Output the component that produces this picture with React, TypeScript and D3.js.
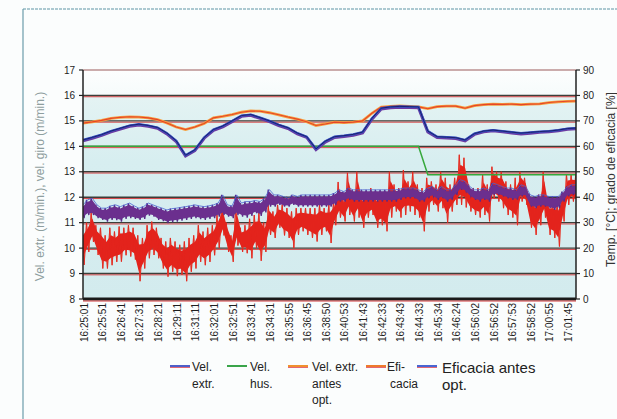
import React from 'react';
import * as d3 from 'd3';

// ---------- data ----------
const timeLabels = [
  '16:25:01', '16:25:51', '16:26:41', '16:27:31', '16:28:21', '16:29:11', '16:31:11',
  '16:32:01', '16:32:51', '16:33:41', '16:34:31', '16:35:55', '16:36:45', '16:38:50',
  '16:40:53', '16:41:43', '16:42:33', '16:43:43', '16:44:33', '16:45:34', '16:46:24',
  '16:56:02', '16:56:52', '16:57:53', '16:58:52', '17:00:55', '17:01:45',
];
const leftTicks = [8, 9, 10, 11, 12, 13, 14, 15, 16, 17];
const rightTicks = [0, 10, 20, 30, 40, 50, 60, 70, 80, 90];

// smooth series, one value every half label-interval
const SMOOTH_STEP = 0.5;
const velExtr = [
  14.25, 14.35, 14.46, 14.6, 14.71, 14.82, 14.87, 14.82, 14.74, 14.52,
  14.22, 13.65, 13.86, 14.35, 14.66, 14.8, 15.0, 15.21, 15.25, 15.13,
  15.0, 14.85, 14.73, 14.52, 14.38, 13.9, 14.2, 14.38, 14.42, 14.47,
  14.56, 15.1, 15.5, 15.55, 15.57, 15.56, 15.55, 14.6, 14.38, 14.36,
  14.34, 14.25, 14.5, 14.6, 14.64, 14.6, 14.56, 14.52, 14.55, 14.58,
  14.6, 14.64, 14.7, 14.72,
];
const velHus = [
  14.0, 14.0, 14.0, 14.0, 14.0, 14.0, 14.0, 14.0, 14.0, 14.0,
  14.0, 14.0, 14.0, 14.0, 14.0, 14.0, 14.0, 14.0, 14.0, 14.0,
  14.0, 14.0, 14.0, 14.0, 14.0, 14.0, 14.0, 14.0, 14.0, 14.0,
  14.0, 14.0, 14.0, 14.0, 14.0, 14.0, 14.0, 12.88, 12.88, 12.88,
  12.88, 12.88, 12.88, 12.88, 12.88, 12.88, 12.88, 12.88, 12.88, 12.88,
  12.88, 12.88, 12.88, 12.88,
];
const velExtrAntes = [
  14.91, 14.96, 15.02, 15.1, 15.14, 15.16, 15.15, 15.12, 15.05, 14.92,
  14.76, 14.66, 14.76, 14.9, 15.12, 15.18, 15.25, 15.34, 15.39, 15.38,
  15.32, 15.24, 15.15, 15.07, 14.97, 14.82, 14.88, 14.95, 14.93, 14.95,
  15.0, 15.3, 15.54, 15.57, 15.59, 15.57, 15.55, 15.48, 15.56, 15.58,
  15.58, 15.5, 15.6, 15.64, 15.66, 15.65, 15.66, 15.64, 15.66, 15.67,
  15.72, 15.75, 15.77, 15.78,
];

// noisy series: min / max per quarter label-interval (in left-axis units)
const NOISY_STEP = 0.25;
const eficaciaHi = [
  10.8, 11.0, 11.4, 10.9, 10.8, 10.5, 10.8, 10.65, 10.85, 10.8,
  10.9, 10.8, 10.5, 10.4, 10.9, 11.04, 10.8, 10.4, 10.26, 10.4,
  10.26, 10.13, 10.26, 10.4, 10.5, 10.9, 10.65, 10.8, 10.9, 11.3,
  11.7, 11.0, 10.5, 11.7, 10.8, 10.9, 11.15, 11.3, 11.44, 11.0,
  11.7, 11.44, 11.7, 11.7, 11.57, 11.44, 11.57, 11.57, 11.57, 11.57,
  11.57, 11.7, 11.57, 11.7, 11.83, 12.6, 11.96, 12.96, 12.1, 13.0,
  12.1, 12.2, 12.36, 12.1, 12.2, 12.2, 13.0, 12.5, 12.36, 13.07,
  12.62, 13.0, 12.5, 12.36, 12.76, 12.62, 12.5, 13.0, 12.76, 12.5,
  12.76, 13.67, 13.55, 12.5, 12.36, 12.36, 12.9, 12.5, 13.2, 13.0,
  13.0, 12.62, 12.5, 12.76, 13.0, 12.76, 12.1, 11.83, 12.1, 13.0,
  11.83, 11.83, 11.83, 12.2, 12.9, 12.9, 12.9,
];
const eficaciaLo = [
  9.34, 9.85, 10.24, 9.73, 9.2, 9.2, 9.33, 9.46, 9.47, 9.72,
  9.67, 9.55, 8.7, 9.2, 9.6, 9.73, 9.6, 9.2, 8.88, 9.07,
  8.9, 8.95, 8.7, 9.07, 9.2, 9.46, 9.33, 9.46, 9.72, 10.0,
  10.5, 9.85, 9.46, 10.1, 9.85, 9.8, 9.6, 10.0, 9.5, 9.85,
  10.52, 10.4, 10.8, 10.5, 10.4, 10.0, 10.52, 10.66, 10.52, 10.4,
  10.26, 10.52, 10.66, 10.2, 10.9, 11.2, 11.05, 11.3, 11.05, 11.2,
  10.8, 11.2, 11.3, 10.8, 10.9, 10.66, 11.2, 11.44, 11.2, 11.3,
  11.44, 11.3, 11.2, 10.66, 11.44, 11.7, 11.44, 11.57, 11.0, 11.44,
  11.7, 11.7, 11.6, 11.44, 11.3, 11.2, 11.3, 11.05, 11.96, 11.83,
  11.57, 11.3, 11.2, 10.9, 11.83, 11.7, 10.8, 10.52, 10.9, 11.2,
  10.52, 10.4, 10.06, 11.05, 11.7, 11.83, 11.7,
];
const eficaciaAntesHi = [
  11.7, 11.9, 11.96, 11.7, 11.57, 11.57, 11.66, 11.7, 11.63, 11.7,
  11.77, 11.66, 11.57, 11.63, 11.77, 11.7, 11.63, 11.57, 11.5, 11.55,
  11.57, 11.6, 11.63, 11.66, 11.7, 11.66, 11.63, 11.66, 11.7, 11.77,
  12.09, 11.7, 11.66, 12.09, 11.77, 11.83, 11.83, 11.87, 11.83, 11.96,
  12.3, 12.09, 12.09, 12.03, 11.96, 12.09, 12.03, 12.09, 12.09, 12.09,
  12.09, 12.09, 12.09, 12.09, 12.16, 12.29, 12.22, 12.36, 12.29, 12.29,
  12.29, 12.29, 12.29, 12.29, 12.29, 12.29, 12.29, 12.29, 12.32, 12.36,
  12.36, 12.36, 12.29, 12.22, 12.36, 12.42, 12.29, 12.42, 12.29, 12.29,
  12.49, 12.69, 12.62, 12.42, 12.29, 12.29, 12.36, 12.29, 12.56, 12.49,
  12.42, 12.36, 12.36, 12.29, 12.49, 12.42, 12.09, 12.03, 12.09, 12.09,
  12.03, 12.03, 12.03, 12.22, 12.42, 12.49, 12.49,
];
const eficaciaAntesLo = [
  11.18, 11.3, 11.3, 11.18, 11.11, 11.04, 11.11, 11.1, 11.04, 11.15,
  11.18, 11.15, 11.11, 11.15, 11.28, 11.24, 11.11, 11.06, 10.98, 11.02,
  11.04, 11.08, 11.11, 11.15, 11.18, 11.14, 11.11, 11.15, 11.18, 11.24,
  11.3, 11.24, 11.18, 11.3, 11.24, 11.2, 11.27, 11.37, 11.27, 11.4,
  11.63, 11.63, 11.7, 11.63, 11.63, 11.7, 11.63, 11.63, 11.63, 11.63,
  11.63, 11.63, 11.63, 11.63, 11.7, 11.83, 11.83, 11.9, 11.83, 11.83,
  11.83, 11.83, 11.83, 11.83, 11.83, 11.83, 11.83, 11.83, 11.9, 11.96,
  11.96, 11.96, 11.83, 11.83, 11.96, 12.03, 11.9, 11.96, 11.83, 11.9,
  12.09, 12.29, 12.22, 12.03, 11.9, 11.83, 11.9, 11.83, 12.09, 12.09,
  12.03, 11.96, 11.9, 11.9, 12.03, 12.03, 11.63, 11.57, 11.63, 11.63,
  11.57, 11.5, 11.57, 11.83, 12.03, 12.09, 12.09,
];

const legendNames = [
  ['Vel.', 'extr.'],
  ['Vel.', 'hus.'],
  ['Vel. extr.', 'antes', 'opt.'],
  ['Efi-', 'cacia'],
  ['Eficacia antes', 'opt.'],
];
const legendColors = ['#4f5fc8', '#3aa54a', '#f0902e', '#ee7a2c', '#4a66d2'];

const FONT = "'Liberation Sans', Arial, sans-serif";

export default function App() {
  const W = 617;
  const H = 419;
  const left = 83;
  const right = 576;
  const top = 70;
  const bottom = 299;

  const x = d3.scaleLinear().domain([0, 26.45]).range([left, right]);
  const yL = d3.scaleLinear().domain([8, 17]).range([bottom, top]);
  const yR = d3.scaleLinear().domain([0, 90]).range([bottom, top]);

  const smoothLine = (vals: number[]) =>
    d3.line<number>().x((_, i) => x(i * SMOOTH_STEP)).y((d) => yL(d))(vals) || '';
  // dense core of a noisy band (middle part of the min/max range)
  const core = (hi: number[], lo: number[], k: number) =>
    d3
      .area<number>()
      .x((_, i) => x(i * NOISY_STEP))
      .y1((d, i) => yL((d + lo[i]) / 2 + ((d - lo[i]) / 2) * k))
      .y0((d, i) => yL((d + lo[i]) / 2 - ((d - lo[i]) / 2) * k))(hi) || '';
  // spikes reaching the full min/max of each bin
  const zig = (hi: number[], lo: number[]) => {
    const pts: [number, number][] = [];
    hi.forEach((h, i) => {
      const cx = x(i * NOISY_STEP);
      pts.push([cx - 1.15, yL(h)]);
      pts.push([cx + 1.15, yL(lo[i])]);
    });
    return d3.line()(pts) || '';
  };

  const legendLineX = [170, 227, 288, 366, 417];
  const legendTextX = [192, 250, 312, 387, 442];

  return (
    <svg
      width={W}
      height={H}
      style={{ position: 'absolute', left: 0, top: 0, background: '#fbfdfd' }}
      fontFamily={FONT}
    >
      <defs>
        <linearGradient id="bg" x1="0" y1="0" x2="0" y2="1">
          <stop offset="0" stopColor="#fdfefe" />
          <stop offset="0.11" stopColor="#f6fbfb" />
          <stop offset="0.112" stopColor="#e4f3f3" />
          <stop offset="0.4" stopColor="#d7eef0" />
          <stop offset="1" stopColor="#d3ebee" />
        </linearGradient>
        <clipPath id="plot">
          <rect x={left} y={top - 5} width={right - left} height={bottom - top + 5} />
        </clipPath>
      </defs>

      {/* outer frame */}
      <line x1={23} y1={9} x2={617} y2={9} stroke="#5f95a6" strokeWidth={1.2} strokeDasharray="3 1" />
      <line x1={23} y1={9} x2={23} y2={419} stroke="#6c9dab" strokeWidth={1.2} />

      {/* plot background */}
      <rect x={left} y={top} width={right - left} height={bottom - top} fill="url(#bg)" />

      {/* grid lines */}
      {leftTicks.slice(1, -1).map((t) => (
        <g key={'g' + t}>
          <line x1={left} x2={right} y1={yL(t)} y2={yL(t)} stroke="#3c3f3a" strokeWidth={1.4} />
          <line x1={left} x2={right} y1={yL(t) + 1.3} y2={yL(t) + 1.3} stroke="#d6383a" strokeWidth={0.9} />
        </g>
      ))}
      <line x1={left} x2={right} y1={yL(17)} y2={yL(17)} stroke="#9a5a5a" strokeWidth={1} />

      {/* series */}
      <g clipPath="url(#plot)">
        <path d={zig(eficaciaHi, eficaciaLo)} fill="none" stroke="#e8553f" strokeWidth={1.1} opacity={0.85} />
        <path d={core(eficaciaHi, eficaciaLo, 0.6)} fill="#e3231c" />
        <path d={zig(eficaciaHi, eficaciaLo)} fill="none" stroke="#e3251d" strokeWidth={0.8} />
        <path d={zig(eficaciaAntesHi, eficaciaAntesLo)} fill="none" stroke="#5a2a88" strokeWidth={1.3} />
        <path d={core(eficaciaAntesHi, eficaciaAntesLo, 0.75)} fill="#6b2f8e" />
        <path
          d={d3.line<number>().x((_, i) => x(i * NOISY_STEP)).y((d) => yL(d))(eficaciaAntesHi) || ''}
          fill="none"
          stroke="#4a62d0"
          strokeWidth={0.8}
        />
        <path d={smoothLine(velHus)} fill="none" stroke="#36a83c" strokeWidth={1.5} />
        <path d={smoothLine(velExtrAntes)} fill="none" stroke="#f6a13e" strokeWidth={2.8} />
        <path d={smoothLine(velExtrAntes)} fill="none" stroke="#e6452a" strokeWidth={1.1} />
        <path d={smoothLine(velExtr)} fill="none" stroke="#6e3aa0" strokeWidth={3} transform="translate(0,0.8)" />
        <path d={smoothLine(velExtr)} fill="none" stroke="#3450c4" strokeWidth={2.2} />
        <path d={smoothLine(velExtr)} fill="none" stroke="#1c206c" strokeWidth={1} />
      </g>

      {/* bottom axis */}
      <line x1={left} x2={right} y1={bottom} y2={bottom} stroke="#1a1a1a" strokeWidth={3} />
      <line x1={left} x2={right} y1={bottom + 2} y2={bottom + 2} stroke="#d2383a" strokeWidth={1} />

      {/* left axis */}
      <line x1={left} x2={left} y1={top} y2={bottom} stroke="#222" strokeWidth={1.5} />
      {leftTicks.map((t) => (
        <g key={'l' + t}>
          <line x1={left - 4} x2={left} y1={yL(t)} y2={yL(t)} stroke="#222" strokeWidth={1.2} />
          <text x={75} y={yL(t)} dy="0.35em" textAnchor="end" fontSize={10} fill="#1e1e1e">
            {t}
          </text>
        </g>
      ))}

      {/* right axis */}
      <line x1={right} x2={right} y1={top} y2={bottom} stroke="#222" strokeWidth={1.5} />
      {rightTicks.map((t) => (
        <g key={'r' + t}>
          <line x1={right} x2={right + 4} y1={yR(t)} y2={yR(t)} stroke="#222" strokeWidth={1.2} />
          <text x={583} y={yR(t)} dy="0.35em" textAnchor="start" fontSize={10} fill="#1e1e1e">
            {t}
          </text>
        </g>
      ))}

      {/* x labels */}
      {timeLabels.map((lab, k) => (
        <text
          key={lab}
          transform={`translate(${x(k) + 1},${bottom + 4}) rotate(-90)`}
          textAnchor="end"
          dy="0.35em"
          fontSize={10}
          fill="#1e1e1e"
        >
          {lab}
        </text>
      ))}

      {/* axis titles */}
      <text
        transform={`translate(40,${(top + bottom) / 2 + 2}) rotate(-90)`}
        textAnchor="middle"
        dy="0.35em"
        fontSize={12}
        fill="#8e9e9e"
      >
        Vel. extr. (m/min.), vel. giro (m/min.)
      </text>
      <text
        transform={`translate(611,${(top + bottom) / 2 - 5}) rotate(-90)`}
        textAnchor="middle"
        dy="0.35em"
        fontSize={12}
        fill="#333"
      >
        Temp. [°C]; grado de eficacia [%]
      </text>

      {/* legend */}
      {legendNames.map((lines, i) => {
        const big = i === 4;
        const fs = big ? 15 : 12;
        const lh = big ? 17 : 16.5;
        const y0 = big ? 373 : 371;
        return (
          <g key={'lg' + i}>
            <line x1={legendLineX[i]} x2={legendLineX[i] + 20} y1={366} y2={366} stroke={legendColors[i]} strokeWidth={2} />
            {i !== 1 && (
              <line x1={legendLineX[i]} x2={legendLineX[i] + 20} y1={367.5} y2={367.5} stroke="#dd4050" strokeWidth={0.8} />
            )}
            {lines.map((s, j) => (
              <text key={j} x={legendTextX[i] + (i === 3 && j === 1 ? 3 : 0)} y={y0 + j * lh} fontSize={fs} fill="#222">
                {s}
              </text>
            ))}
          </g>
        );
      })}
    </svg>
  );
}
